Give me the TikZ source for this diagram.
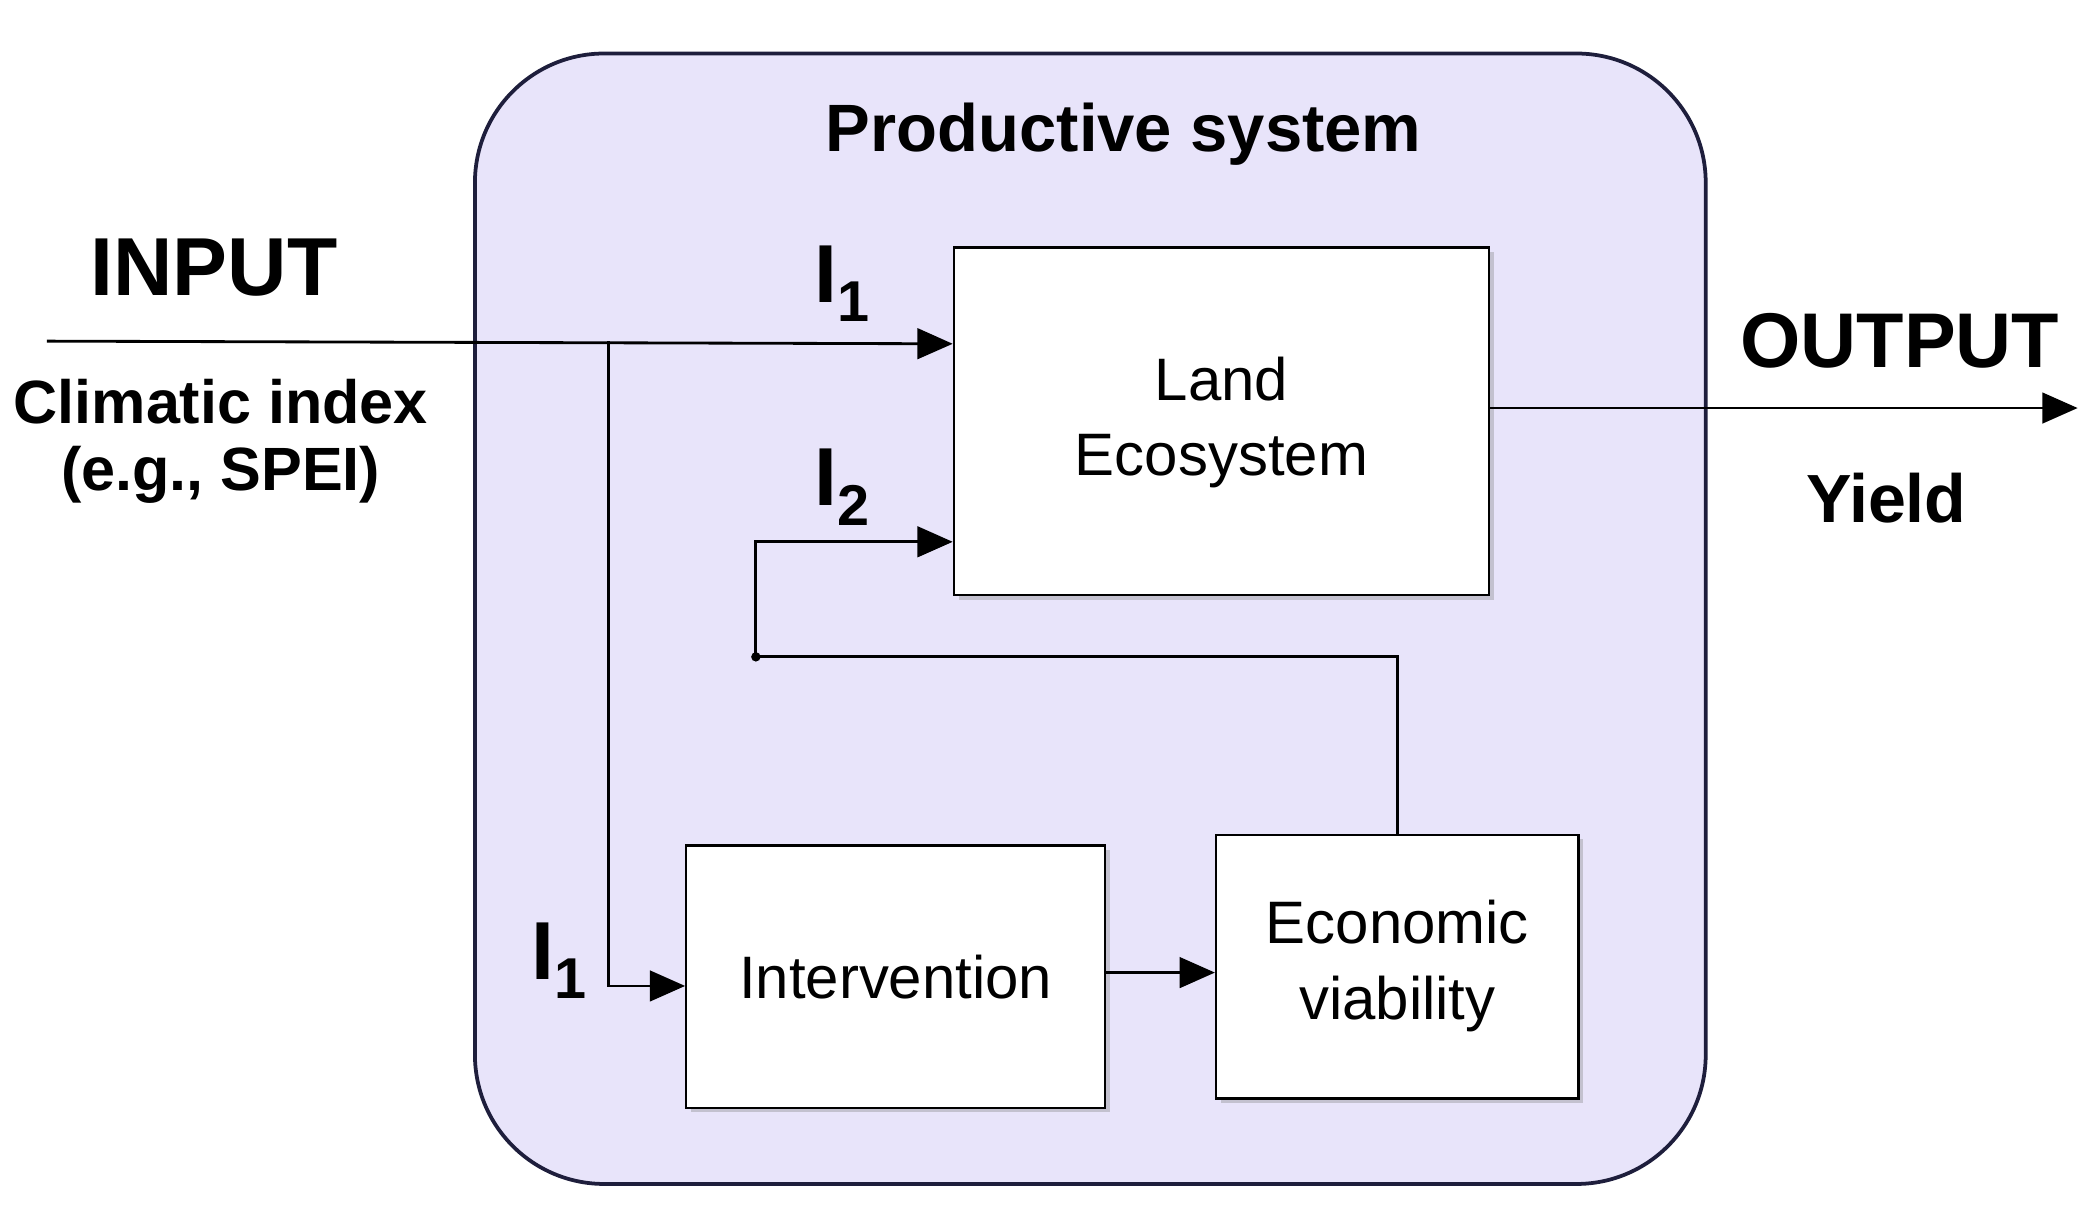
\documentclass[tikz,border=0pt]{standalone}
\usepackage{fontspec}
\setmainfont{Liberation Sans}
\usetikzlibrary{arrows.meta,shadows}
\definecolor{lav}{HTML}{E8E4FA}
\definecolor{navy}{HTML}{1E1E3C}
\begin{document}
\begin{tikzpicture}[x=0.02cm,y=-0.02cm,
  box/.style={draw=black,line width=1pt,fill=white,drop shadow={shadow xshift=2pt,shadow yshift=-2pt,opacity=0.35}},
  ln/.style={line width=1.2pt},
  arr/.style={ln,-{Triangle[length=15pt,width=13pt]}},
  lab/.style={font=\bfseries\fontsize{35}{40}\selectfont},
  sub/.style={font=\bfseries\fontsize{26}{30}\selectfont},
  btxt/.style={font=\fontsize{25.5}{32}\selectfont,align=center}]
\useasboundingbox (0,0) rectangle (1560,911);
\draw[navy,line width=1.6pt,fill=lav,rounded corners=55pt] (355,40) rectangle (1275,885);
\node[font=\bfseries\fontsize{28.5}{34}\selectfont] (ps) at (840,100) {Productive system};
\node[box,minimum width=400*0.02cm,minimum height=260*0.02cm] (land) at (913,315) {};
\node[btxt] at (913,316) {Land\\Ecosystem};
\node[box,minimum width=313*0.02cm,minimum height=196*0.02cm] (int) at (669.5,730) {};
\node[btxt] at (669.5,730) {Intervention};
\node[box,minimum width=271*0.02cm,minimum height=197*0.02cm] (eco) at (1044.5,722.5) {};
\node[btxt] at (1044.5,722) {Economic\\viability};
\coordinate (in) at (35,255);
\coordinate (br) at (455,255);
\coordinate (out) at (1553,305);
\coordinate (j) at (565,491);
\draw[arr] (in) -- (land.west |- 0,257);
\draw[arr] (br) |- (int.west |- 0,737);
\draw[arr] (int.east |- 0,727) -- (eco.west |- 0,727);
\draw[arr] (eco.north) |- (j) |- (land.west |- 0,405);
\draw[arr] (land.east |- out) -- (out);
\fill (j) circle (2pt);
\node[lab] (inp) at (160,200) {INPUT};
\node[sub] (ci) at (165,300) {Climatic index};
\node[sub] (eg) at (165,355) {(e.g., SPEI)};
\node[lab,font=\bfseries\fontsize{33}{38}\selectfont] (o) at (1420,255) {OUTPUT};
\node[font=\bfseries\fontsize{29}{34}\selectfont] (y) at (1410,372) {Yield};
\node[lab] (i1a) at (630,212) {I\textsubscript{1}};
\node[lab] (i2) at (630,364) {I\textsubscript{2}};
\node[lab] (i1b) at (418,718) {I\textsubscript{1}};
\end{tikzpicture}
\end{document}
